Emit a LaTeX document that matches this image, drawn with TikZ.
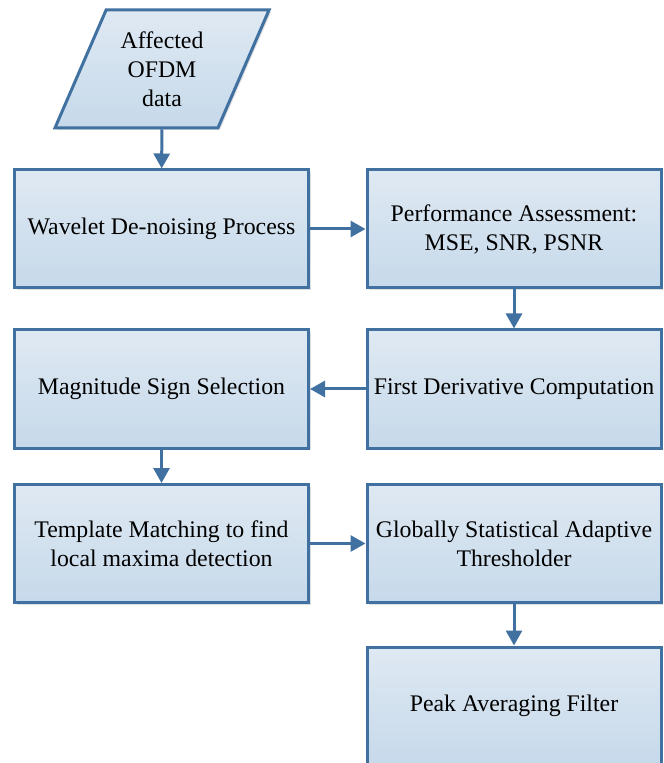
\documentclass[tikz,border=0pt]{standalone}
\usepackage{fontspec}
\setmainfont{Liberation Serif}
\newfontfamily\boxfont{Liberation Serif}
\usetikzlibrary{shapes.geometric,arrows.meta,shadows}
\definecolor{boxline}{RGB}{65,113,160}
\definecolor{boxtop}{RGB}{223,233,243}
\definecolor{boxbottom}{RGB}{198,217,234}
\tikzset{
  procbox/.style={rectangle, draw=boxline, line width=1.5pt, top color=boxtop, bottom color=boxbottom,
    minimum width=147pt, minimum height=59pt, align=center, inner sep=2pt,
    drop shadow={shadow xshift=1pt, shadow yshift=-1pt, opacity=0.25},
    font=\boxfont\fontsize{11.9pt}{14.5pt}\selectfont},
  databox/.style={procbox, trapezium, trapezium left angle=63.4, trapezium right angle=116.6,
    minimum width=108pt, minimum height=59pt, trapezium stretches=true},
  flow/.style={draw=boxline, line width=1.5pt, -{Triangle[length=7.5pt,width=8pt]}}
}
\begin{document}
\begin{tikzpicture}[x=0.5pt,y=-0.5pt]
  \clip (0,0) rectangle (663,763);
  \useasboundingbox (0,0) rectangle (663,763);
  % boxes
  \node[databox] (data) at (162,69) {Affected\\OFDM\\data};
  \node[procbox] (wavelet) at (161.5,229) {Wavelet De-noising Process};
  \node[procbox] (perf) at (514,229) {Performance Assessment:\\MSE, SNR, PSNR};
  \node[procbox] (deriv) at (514,389) {First Derivative Computation};
  \node[procbox] (magsign) at (161.5,389) {Magnitude Sign Selection};
  \node[procbox] (template) at (161.5,543.5) {Template Matching to find\\local maxima detection};
  \node[procbox] (thresh) at (514,543.5) {Globally Statistical Adaptive\\Thresholder};
  \node[procbox] (peak) at (514,706) {Peak Averaging Filter};
  % arrows
  \draw[flow] (data) -- (wavelet);
  \draw[flow] (wavelet) -- (perf);
  \draw[flow] (perf) -- (deriv);
  \draw[flow] (deriv) -- (magsign);
  \draw[flow] (magsign) -- (template);
  \draw[flow] (template) -- (thresh);
  \draw[flow] (thresh) -- (peak);
\end{tikzpicture}
\end{document}
